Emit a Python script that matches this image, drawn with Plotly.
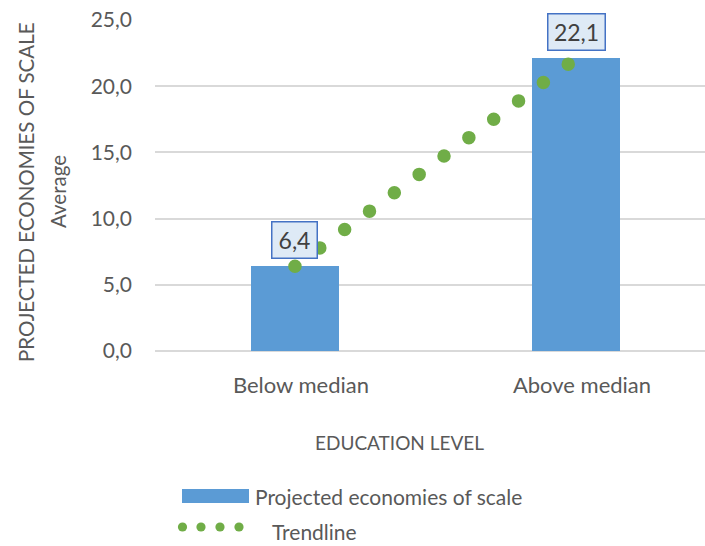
import numpy as np
import plotly.graph_objects as go

# Chart data
categories = ["Below median", "Above median"]
values = [6.4, 22.1]
value_labels = ["6,4", "22,1"]
y_ticks = [0, 5, 10, 15, 20, 25]

# Linear trendline fitted through the two bars
idx = np.arange(len(values))
slope, intercept = np.polyfit(idx, values, 1)
trend = list(slope * idx + intercept)

FONT = "Lato"
TXT = "#595959"
BLUE = "#5B9BD5"
GREEN = "#70AD47"
GRID = "#D9D9D9"

W, H = 705, 546
ML, MR, MT, MB = 155, 0, 20, 195
PW, PH = W - ML - MR, H - MT - MB


def px(x):
    return (x - ML) / PW


def py(y):
    return (H - MB - y) / PH


fig = go.Figure()
fig.add_trace(go.Bar(
    x=categories, y=values, width=0.313,
    marker=dict(color=BLUE, line=dict(width=0)),
    name="Projected economies of scale", showlegend=False,
))
fig.add_trace(go.Scatter(
    x=categories, y=trend, mode="lines",
    line=dict(color=GREEN, width=13.5, dash="0px,30.9px"),
    name="Trendline", showlegend=False, hoverinfo="skip",
))

annotations = []
# value labels in boxed callouts above the bars
for c, v, t, w in zip(categories, values, value_labels, [40, 52]):
    annotations.append(dict(
        x=c, y=v, xref="x", yref="y", text=t, showarrow=False,
        xanchor="center", yanchor="bottom", yshift=7,
        font=dict(family=FONT, size=23, color="#404040"),
        bgcolor="#DEEAF6", bordercolor="#4472C4", borderwidth=1.5,
        borderpad=2, width=w, height=31,
    ))

# axis titles
for line_text, cx in [("PROJECTED ECONOMIES OF SCALE", 26), ("Average", 58)]:
    annotations.append(dict(
        x=px(cx), y=py(192), xref="paper", yref="paper",
        text=line_text, textangle=-90,
        showarrow=False, xanchor="center", yanchor="middle",
        font=dict(family=FONT, size=20.5, color=TXT),
    ))
annotations.append(dict(
    x=px(399), y=py(442), xref="paper", yref="paper",
    text="EDUCATION LEVEL", showarrow=False,
    xanchor="center", yanchor="middle",
    font=dict(family=FONT, size=19, color=TXT),
))

# legend
shapes = [dict(type="rect", xref="paper", yref="paper",
               x0=px(182), x1=px(249), y0=py(503), y1=py(489),
               fillcolor=BLUE, line=dict(width=0))]
for cx in [182.5, 201, 220, 239]:
    shapes.append(dict(type="circle", xref="paper", yref="paper",
                       x0=px(cx - 4.6), x1=px(cx + 4.6),
                       y0=py(527 + 4.6), y1=py(527 - 4.6),
                       fillcolor=GREEN, line=dict(width=0)))
annotations.append(dict(
    x=px(253), y=py(496), xref="paper", yref="paper",
    text="Projected economies of scale", showarrow=False,
    xanchor="left", yanchor="middle",
    font=dict(family=FONT, size=21, color=TXT),
))
annotations.append(dict(
    x=px(270), y=py(531), xref="paper", yref="paper",
    text="Trendline", showarrow=False,
    xanchor="left", yanchor="middle",
    font=dict(family=FONT, size=21, color=TXT),
))

fig.update_layout(
    width=W, height=H, autosize=False,
    margin=dict(l=ML, r=MR, t=MT, b=MB, pad=0),
    plot_bgcolor="white", paper_bgcolor="white",
    separators=", ",
    font=dict(family=FONT, color=TXT),
    showlegend=False,
    bargap=0,
    annotations=annotations,
    shapes=shapes,
)
fig.update_xaxes(
    type="category", categoryorder="array", categoryarray=categories,
    range=[-0.498, 1.459], showgrid=False, zeroline=False, showline=False,
    ticks="", tickfont=dict(family=FONT, size=22, color=TXT),
    ticklabelstandoff=19, ticklabelshift=6,
)
fig.update_yaxes(
    range=[0, 25], tickvals=y_ticks, tickformat=".1f",
    showgrid=True, gridcolor=GRID, gridwidth=1.5,
    zeroline=True, zerolinecolor=GRID, zerolinewidth=1.5, showline=False,
    ticks="", tickfont=dict(family=FONT, size=21, color=TXT),
    ticklabelstandoff=22,
)

post = """
var gd = document.getElementById('{plot_id}');
function roundCaps(){
  gd.querySelectorAll('.scatterlayer .js-line').forEach(function(p){
    p.style.strokeLinecap = 'round';
  });
}
roundCaps();
gd.on('plotly_afterplot', roundCaps);
"""
fig.write_html("out.html", post_script=post)
